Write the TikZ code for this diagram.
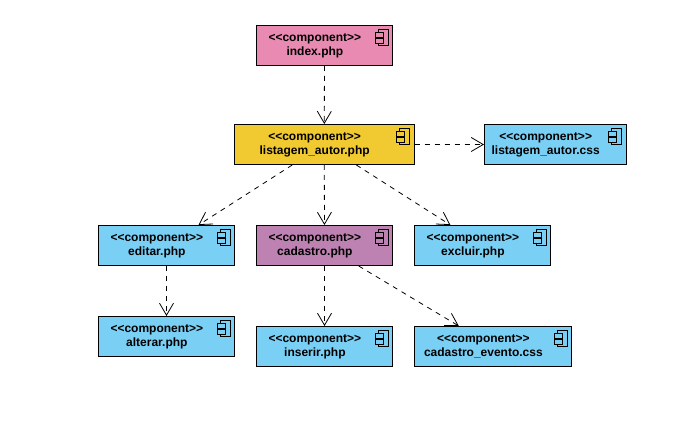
\documentclass[tikz,border=0pt]{standalone}
\usepackage{fontspec}
\setmainfont{Liberation Sans}
\usetikzlibrary{arrows.meta}
\definecolor{pinkbox}{RGB}{232,138,178}
\definecolor{yellowbox}{RGB}{240,202,48}
\definecolor{bluebox}{RGB}{122,207,245}
\definecolor{purplebox}{RGB}{189,130,178}
\def\components{{(324.5,45.5)/index/index.php/136/pinkbox}, {(324.25,144.5)/listagem/listagem\_autor.php/179.5/yellowbox}, {(555.25,144.5)/listagemcss/listagem\_autor.css/141.5/bluebox}, {(166.5,245.5)/editar/editar.php/136/bluebox}, {(324.5,245.5)/cadastro/cadastro.php/136/purplebox}, {(482.5,245.5)/excluir/excluir.php/136/bluebox}, {(166.5,336.5)/alterar/alterar.php/136/bluebox}, {(324.5,346.5)/inserir/inserir.php/136/bluebox}, {(493,346.5)/evento/cadastro\_evento.css/157/bluebox}}
\def\connect{index/listagem, listagem/listagemcss, listagem/editar, listagem/cadastro, listagem/excluir, editar/alterar, cadastro/inserir, cadastro/evento}
\newcommand{\complabel}[1]{<{}<component>{}>\hspace*{14.4pt}\\#1\hspace*{14.4pt}\rule[-1.6pt]{0pt}{1.6pt}}
\tikzstyle{component} = [draw, line width=.75pt, minimum height=30pt, inner sep=0pt, align=center, font=\bfseries\fontsize{9}{10.5}\selectfont]
\tikzstyle{iconpart} = [draw, line width=.75pt]
\tikzstyle{dependency} = [draw, line width=.6pt, dash pattern=on 3.75pt off 3.75pt, -{Straight Barb[length=9pt,width=10.5pt,line width=.6pt]}]

\begin{document}
\begin{tikzpicture}[x=.75pt,y=-.75pt]
  \useasboundingbox (0,0) rectangle (682,423);

  % The boxes, each with its small component icon
  \foreach \pos/\name/\fname/\wid/\col in \components {
    \node[component, fill=\col, minimum width=\wid*.75pt] (\name) at \pos {\complabel{\fname}};
    \path[iconpart, fill=\col] ([shift={(-15,5)}]\name.north east) rectangle ([shift={(-5,21)}]\name.north east);
    \path[iconpart, fill=\col] ([shift={(-18,8)}]\name.north east) rectangle ([shift={(-10,12.5)}]\name.north east);
    \path[iconpart, fill=\col] ([shift={(-18,14)}]\name.north east) rectangle ([shift={(-10,18.5)}]\name.north east);
  }

  % All the dependencies
  \foreach \source/\dest in \connect
    \path[dependency] (\source) -- (\dest);

\end{tikzpicture}
\end{document}
